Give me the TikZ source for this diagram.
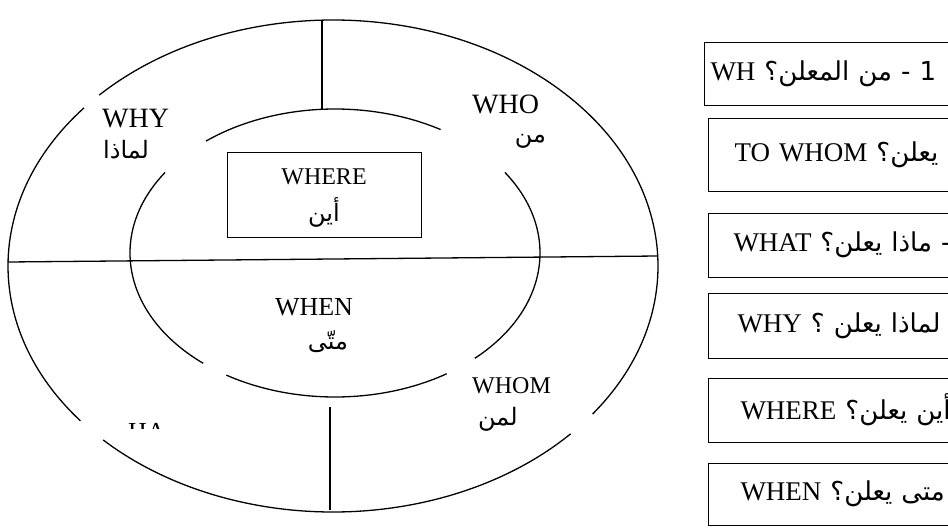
\documentclass[tikz,border=0pt]{standalone}
\usepackage{fontspec}
\setmainfont{Liberation Serif}
\newfontfamily\arabicfont[Script=Arabic]{DejaVu Sans}
\TeXXeTstate=1
\usetikzlibrary{positioning}

\newcommand{\artext}[1]{{\arabicfont\fontsize{26}{28}\selectfont\beginR #1\endR}}

\tikzset{
  ring/.style={line width=1.3pt},
  divider/.style={line width=1.3pt},
  wlabel/.style={inner sep=0pt, font=\fontsize{28}{30}\selectfont},
  wsmall/.style={inner sep=0pt, font=\fontsize{24}{26}\selectfont},
  arlabel/.style={inner sep=0pt, font=\fontsize{24}{26}\selectfont\arabicfont},
  qbox/.style={
    draw,
    line width=1pt,
    anchor=west,
    text width=420pt,
    align=left,
    inner ysep=0pt,
    font=\fontsize{27}{30}\selectfont
  }
}

\begin{document}
\begin{tikzpicture}[x=1pt,y=-1pt]
  \useasboundingbox (0,0) rectangle (948,530);
  \clip (0,0) rectangle (948,530);

  % outer ring, broken in three places
  \begin{scope}[shift={(333,266)}]
    \draw[ring] (43:325 and 246) arc[start angle=43, end angle=135, x radius=325, y radius=246];
    \draw[ring] (141:325 and 246) arc[start angle=141, end angle=220, x radius=325, y radius=246];
    \draw[ring] (224:325 and 246) arc[start angle=224, end angle=397, x radius=325, y radius=246];
  \end{scope}

  % inner ring, broken in four places
  \begin{scope}[shift={(335,253)}]
    \draw[ring] (57:205 and 144) arc[start angle=57, end angle=122, x radius=205, y radius=144];
    \draw[ring] (130:205 and 144) arc[start angle=130, end angle=214, x radius=205, y radius=144];
    \draw[ring] (231:205 and 144) arc[start angle=231, end angle=301, x radius=205, y radius=144];
    \draw[ring] (326:205 and 144) arc[start angle=326, end angle=407, x radius=205, y radius=144];
  \end{scope}

  \draw[divider] (322,20) -- (322,109);
  \draw[divider] (330,407) -- (330,510);
  \draw[divider] (8,262) -- (658,256);

  \node[wlabel, anchor=base west] (why) at (102,127) {WHY};
  \node[arlabel, below right=12pt and 1pt of why.south west] (whyar) {\beginR لماذا\endR};

  \node[wlabel, anchor=base west] (who) at (472,113) {WHO};
  \node[arlabel, below left=20pt and -7pt of who.south east] (whoar) {\beginR من\endR};

  \node[draw, line width=1pt, minimum width=194pt, minimum height=85pt, inner sep=0pt] (wherebox) at (324,194.5) {};
  \node[wsmall, anchor=base] (where) at (324,184) {WHERE};
  \node[arlabel, below=13pt of where.south] (wherear) {\beginR أين\endR};

  \node[wlabel, anchor=base, font=\fontsize{26}{28}\selectfont] (when) at (314,315) {WHEN};
  \node[arlabel, below=15pt of when.south, xshift=14pt] (whenar) {\beginR متّى\endR};

  \node[wsmall, anchor=base west] (whom) at (472,393) {WHOM};
  \node[arlabel, below right=13pt and 6pt of whom.south west] (whomar) {\beginR لمن\endR};

  % what label, mostly lost
  \begin{scope}
    \clip (120,420) rectangle (185,428);
    \node[wsmall, anchor=base west, font=\fontsize{26}{28}\selectfont] (whatcut) at (128,440) {HA};
  \end{scope}

  % question boxes, cut at the right edge
  \node[qbox, minimum height=63pt, inner xsep=6pt] (q1) at (704,73.5) {WH \artext{1 - من المعلن؟}};
  \node[qbox, minimum height=73pt, inner xsep=26pt] (q2) at (708,154.5) {TO WHOM \artext{2- لمن يعلن؟}};
  \node[qbox, minimum height=64pt, inner xsep=25pt] (q3) at (708,245) {WHAT \artext{3- ماذا يعلن؟}};
  \node[qbox, minimum height=65pt, inner xsep=29pt] (q4) at (708,325.5) {WHY \artext{4- لماذا يعلن ؟}};
  \node[qbox, minimum height=64pt, inner xsep=32pt] (q5) at (708,410) {WHERE \artext{5- أين يعلن؟}};
  \node[qbox, minimum height=62pt, inner xsep=32pt] (q6) at (708,494) {WHEN \artext{6- متى يعلن؟}};
\end{tikzpicture}
\end{document}
